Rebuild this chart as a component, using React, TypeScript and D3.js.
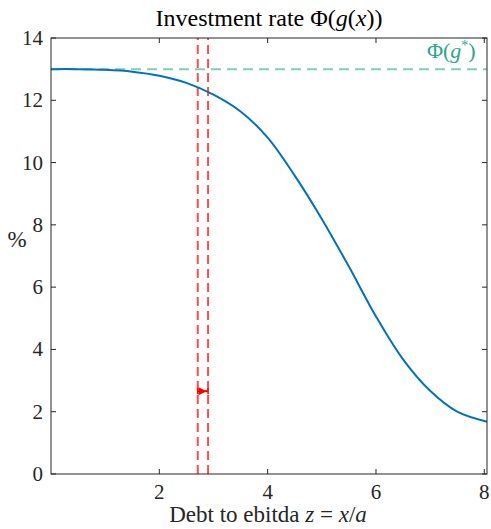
import { useRef, useEffect } from "react";
import * as d3 from "d3";

// values
const debtRatio = [0, 0.5, 1.0, 1.5, 2.0, 2.5, 3.0, 3.5, 4.0, 4.5, 5.0, 5.5, 6.0, 6.5, 7.0, 7.5, 8.05];
const investRate = [13.0, 13.0, 12.98, 12.92, 12.79, 12.56, 12.18, 11.64, 10.8, 9.58, 8.19, 6.66, 5.06, 3.68, 2.67, 2.0, 1.68];
const steadyRate = 13;
const thresholds = [2.71, 2.9];
const markerPoint = { z: 2.8, lo: 2.71, hi: 2.9, y: 2.66 };
const xTicks = [2, 4, 6, 8];
const yTicks = [0, 2, 4, 6, 8, 10, 12, 14];

const W = 491;
const H = 529;
const margin = { top: 38, right: 4, bottom: 55, left: 51 };
const FONT = "Liberation Serif, DejaVu Serif, Times New Roman, serif";
const AXIS = "#262626";

const App = () => {
  const svgRef = useRef<SVGSVGElement>(null);

  useEffect(() => {
    const svg = d3.select(svgRef.current);
    svg.selectAll("*").remove();

    const w = W - margin.left - margin.right;
    const h = H - margin.top - margin.bottom;
    const g = svg.append("g").attr("transform", `translate(${margin.left},${margin.top})`);

    const x = d3.scaleLinear().domain([0, 8.05]).range([0, w]);
    const y = d3.scaleLinear().domain([0, 14]).range([h, 0]);

    // steady state level
    g.append("line")
      .attr("x1", x(0))
      .attr("x2", x(8.05))
      .attr("y1", y(steadyRate))
      .attr("y2", y(steadyRate))
      .attr("stroke", "#7fd0b8")
      .attr("stroke-width", 2)
      .attr("stroke-dasharray", "10,6");

    // threshold lines
    thresholds.forEach((t) => {
      g.append("line")
        .attr("x1", x(t))
        .attr("x2", x(t))
        .attr("y1", y(0))
        .attr("y2", y(14))
        .attr("stroke", "#ff4d4d")
        .attr("stroke-width", 2)
        .attr("stroke-dasharray", "9,5");
    });

    // main curve
    const pts = debtRatio.map((d, i) => [d, investRate[i]] as [number, number]);
    const line = d3
      .line<[number, number]>()
      .x((d) => x(d[0]))
      .y((d) => y(d[1]))
      .curve(d3.curveCatmullRom.alpha(0.5));
    g.append("path")
      .datum(pts)
      .attr("fill", "none")
      .attr("stroke", "#0072BD")
      .attr("stroke-width", 2)
      .attr("d", line);

    // marker with horizontal bar
    const my = y(markerPoint.y);
    g.append("line")
      .attr("x1", x(markerPoint.lo))
      .attr("x2", x(markerPoint.hi))
      .attr("y1", my)
      .attr("y2", my)
      .attr("stroke", "#ff0000")
      .attr("stroke-width", 2);
    [markerPoint.lo, markerPoint.hi].forEach((v) => {
      g.append("line")
        .attr("x1", x(v))
        .attr("x2", x(v))
        .attr("y1", my - 3)
        .attr("y2", my + 3)
        .attr("stroke", "#ff0000")
        .attr("stroke-width", 1.5);
    });
    const cx = x(markerPoint.z);
    g.append("path")
      .attr("d", `M${cx - 4},${my - 4}L${cx + 4},${my}L${cx - 4},${my + 4}Z`)
      .attr("fill", "#ff0000");

    // axes box with inward ticks on all sides
    g.append("rect")
      .attr("width", w)
      .attr("height", h)
      .attr("fill", "none")
      .attr("stroke", AXIS)
      .attr("stroke-width", 1);

    const label = (sel: any, size: number) =>
      sel.attr("font-family", FONT).attr("font-size", size).attr("fill", AXIS);

    xTicks.forEach((t) => {
      g.append("line").attr("x1", x(t)).attr("x2", x(t)).attr("y1", h).attr("y2", h - 5).attr("stroke", AXIS);
      g.append("line").attr("x1", x(t)).attr("x2", x(t)).attr("y1", 0).attr("y2", 5).attr("stroke", AXIS);
      label(g.append("text"), 21)
        .attr("x", x(t))
        .attr("y", h + 25)
        .attr("text-anchor", "middle")
        .text(t);
    });

    yTicks.forEach((t) => {
      g.append("line").attr("x1", 0).attr("x2", 5).attr("y1", y(t)).attr("y2", y(t)).attr("stroke", AXIS);
      g.append("line").attr("x1", w).attr("x2", w - 5).attr("y1", y(t)).attr("y2", y(t)).attr("stroke", AXIS);
      label(g.append("text"), 21)
        .attr("x", -8)
        .attr("y", y(t) + 7)
        .attr("text-anchor", "end")
        .text(t);
    });

    // labels
    label(svg.append("text"), 23)
      .attr("x", 17)
      .attr("y", 247)
      .attr("text-anchor", "middle")
      .text("%");

    const title = label(svg.append("text"), 24)
      .attr("x", 269)
      .attr("y", 26)
      .attr("text-anchor", "middle")
      .attr("fill", "#000");
    title.append("tspan").text("Investment rate Φ(");
    title.append("tspan").attr("font-style", "italic").text("g");
    title.append("tspan").text("(");
    title.append("tspan").attr("font-style", "italic").text("x");
    title.append("tspan").text("))");

    const xlab = label(svg.append("text"), 23)
      .attr("x", 268)
      .attr("y", 522)
      .attr("text-anchor", "middle");
    xlab.append("tspan").text("Debt to ebitda ");
    xlab.append("tspan").attr("font-style", "italic").text("z");
    xlab.append("tspan").text(" = ");
    xlab.append("tspan").attr("font-style", "italic").text("x");
    xlab.append("tspan").text("/");
    xlab.append("tspan").attr("font-style", "italic").text("a");

    const glab = label(g.append("text"), 22)
      .attr("x", x(7.84))
      .attr("y", y(13.35))
      .attr("text-anchor", "end")
      .attr("fill", "#2ca58d");
    glab.append("tspan").text("Φ(");
    glab.append("tspan").attr("font-style", "italic").text("g");
    glab.append("tspan").attr("dy", -8).attr("font-size", 14).text("*");
    glab.append("tspan").attr("dy", 8).text(")");
  }, []);

  return (
    <svg
      ref={svgRef}
      width={W}
      height={H}
      style={{ position: "absolute", left: 0, top: 0, background: "#fff" }}
    />
  );
};

export default App;
